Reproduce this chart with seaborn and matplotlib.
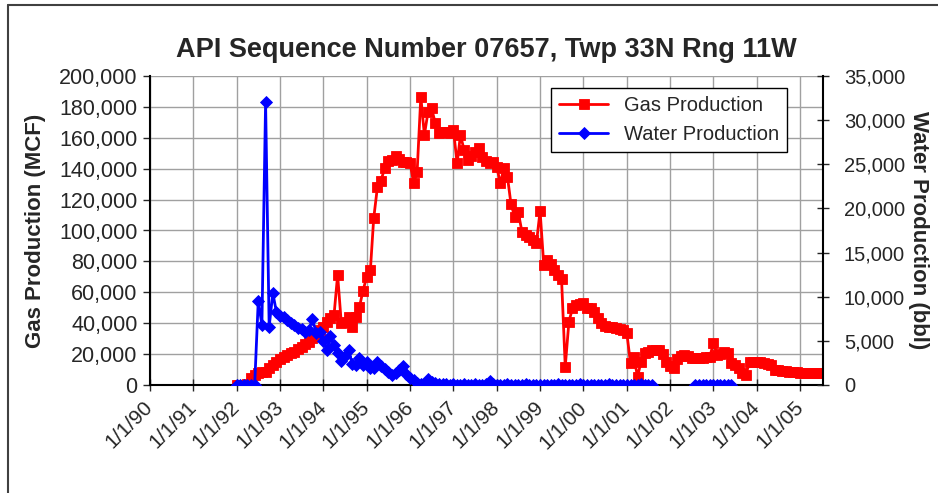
import numpy as np
import pandas as pd
import seaborn as sns
import matplotlib
matplotlib.use('Agg')
import matplotlib.pyplot as plt
import matplotlib.dates as mdates
from matplotlib.ticker import MultipleLocator, FuncFormatter
from matplotlib.lines import Line2D

sns.set_style('white')
plt.rcParams['font.family'] = ['Liberation Sans', 'DejaVu Sans']

# monthly values, Jan 1992 - Jul 2005
gas = [
    # 1992
    0, 0, 0, 500, 4300, 6500, 7600, 8600, 8600, 10800, 12800, 15000,
    # 1993
    17000, 18300, 19400, 20500, 21600, 23000, 24800, 26500, 28000, 30500, 32400, 35500,
    # 1994
    37700, 40500, 43200, 45500, 71200, 40000, 40500, 44200, 37700, 44000, 50700, 61000,
    # 1995
    70100, 74400, 107900, 127900, 132200, 140200, 145200, 145600, 148200, 146000, 144500, 144500,
    # 1996
    143900, 130500, 138000, 186600, 161800, 176900, 179100, 169400, 162900, 163500, 163900, 163000,
    # 1997
    165000, 143500, 161800, 152000, 145600, 148000, 151000, 153200, 147800, 145000, 143500, 144500,
    # 1998
    140900, 130500, 140200, 134800, 117000, 109000, 112000, 99200, 97000, 96000, 94000, 91700,
    # 1999
    112600, 77700, 80900, 78000, 74400, 71200, 68400, 11900, 41000, 49600, 51800, 52500,
    # 2000
    52900, 49600, 50000, 47400, 43200, 40000, 38500, 37700, 37500, 36700, 36500, 35600,
    # 2001
    33500, 14000, 18300, 5400, 15100, 20500, 21600, 22700, 22700, 22700, 20000, 15000,
    # 2002
    12500, 10800, 17000, 19000, 19400, 18500, 17300, 17300, 17300, 17300, 18300, 18300,
    # 2003
    27000, 19400, 20000, 21600, 20500, 14000, 12900, 10800, 7600, 6500, 15100, 15100,
    # 2004
    15100, 15100, 14400, 13500, 12900, 9700, 9700, 9000, 9000, 8600, 8600, 8600,
    # 2005
    8000, 8000, 8000, 7600, 7600, 7600, 7600,
]

water_a = [  # Jan 1992 - Aug 2001
    0, 0, 0, 0, 0, 0, 9500, 6800, 32000, 6600, 10400, 8300,
    7800, 7700, 7400, 7000, 6800, 6500, 6300, 6000, 6200, 7500, 5900, 6000,
    5000, 4000, 5500, 4500, 3600, 2700, 3300, 4000, 2400, 2300, 3100, 2300,
    2600, 1900, 1900, 2600, 2100, 1800, 1500, 1100, 1400, 1700, 2100, 1300,
    800, 600, 200, 100, 0, 700, 300, 200, 100, 150, 100, 0,
    100, 0, 50, 100, 0, 50, 100, 0, 0, 100, 400, 100,
    0, 50, 0, 100, 0, 0, 50, 0, 100, 0, 0, 50,
    0, 0, 50, 0, 0, 100, 0, 0, 50, 0, 0, 100,
    0, 0, 50, 0, 0, 50, 0, 100, 0, 0, 50, 0,
    0, 50, 0, 0, 100, 0, 0, 0,
]
water_b = [0, 0, 0, 0, 0, 0, 0, 0, 0, 0, 0]  # Aug 2002 - Jun 2003

dates = pd.date_range('1992-01-01', periods=len(gas), freq='MS')
df_gas = pd.DataFrame({'date': dates, 'gas': gas})
df_wa = pd.DataFrame({'date': pd.date_range('1992-01-01', periods=len(water_a), freq='MS'), 'water': water_a})
df_wb = pd.DataFrame({'date': pd.date_range('2002-08-01', periods=len(water_b), freq='MS'), 'water': water_b})

fig = plt.figure(figsize=(9.38, 4.93), dpi=100)
ax = fig.add_axes([150/938, 108/493, 673/938, 309/493])

sns.lineplot(data=df_gas, x='date', y='gas', ax=ax, color='#FF0000', marker='s',
             markersize=6.5, markeredgecolor='#FF0000', markeredgewidth=0.6,
             linewidth=2, errorbar=None, label='Gas Production', legend=False)

ax2 = ax.twinx()
for d, lab in [(df_wa, 'Water Production'), (df_wb, '_nolegend_')]:
    sns.lineplot(data=d, x='date', y='water', ax=ax2, color='#0000FF', marker='D',
                 markersize=6, markeredgecolor='#0000FF', markeredgewidth=0.6,
                 linewidth=2, errorbar=None, label=lab, legend=False)

ax.set_xlim(pd.Timestamp('1990-01-01'), pd.Timestamp('2005-07-12'))
ax.set_ylim(0, 200000)
ax2.set_ylim(0, 35000)
ax.yaxis.set_major_locator(MultipleLocator(20000))
ax2.yaxis.set_major_locator(MultipleLocator(5000))
fmt = FuncFormatter(lambda v, p: f'{v:,.0f}')
ax.yaxis.set_major_formatter(fmt)
ax2.yaxis.set_major_formatter(fmt)
ax.xaxis.set_major_locator(mdates.YearLocator())
ax.xaxis.set_major_formatter(mdates.DateFormatter('%-m/%-d/%y'))

ax.grid(True, color='#A0A0A0', linewidth=1)
ax2.grid(False)

for s in ['top', 'right']:
    ax.spines[s].set_visible(False)
for s in ['left', 'bottom']:
    ax.spines[s].set_color('black')
    ax.spines[s].set_linewidth(1.5)
for s in ['top', 'left', 'bottom']:
    ax2.spines[s].set_visible(False)
ax2.spines['right'].set_color('black')
ax2.spines['right'].set_linewidth(1.5)

ax.tick_params(axis='y', direction='out', length=5, width=1, labelsize=15.5, pad=4, left=True)
ax.tick_params(axis='x', direction='inout', length=8, width=1, labelsize=15, pad=10, bottom=True)
ax2.tick_params(axis='y', direction='inout', length=8, width=1, labelsize=14.5, pad=11, right=True)
plt.setp(ax.get_xticklabels(), rotation=45, ha='right', va='center', rotation_mode='anchor')

ax.set_xlabel('')
ax.set_title('API Sequence Number 07657, Twp 33N Rng 11W', fontsize=19.5, fontweight='bold', pad=14)
ax.set_ylabel('Gas Production (MCF)', fontsize=16, fontweight='bold', va='center')
ax.yaxis.set_label_coords(-114/673, 0.5)
ax2.set_ylabel('Water Production (bbl)', fontsize=16, fontweight='bold', rotation=270, va='center')
ax2.yaxis.set_label_coords(768/673, 0.5)

h1 = ax.get_lines()[0]
h2 = ax2.get_lines()[0]
leg = ax2.legend([h1, h2], ['Gas Production', 'Water Production'], loc='upper right',
                 bbox_to_anchor=(0.9465, 0.961), frameon=True, fancybox=False,
                 edgecolor='black', framealpha=1, fontsize=14.5, handlelength=2.4,
                 borderpad=0.4, labelspacing=0.5, borderaxespad=0)
leg.get_frame().set_linewidth(1)

# chart area border
fig.add_artist(Line2D([8/938, 8/938], [0, 1 - 5/493], transform=fig.transFigure, color='#404040', lw=1.5))
fig.add_artist(Line2D([8/938, 1], [1 - 5/493, 1 - 5/493], transform=fig.transFigure, color='#404040', lw=1.5))

plt.savefig('out.png', dpi=100)
